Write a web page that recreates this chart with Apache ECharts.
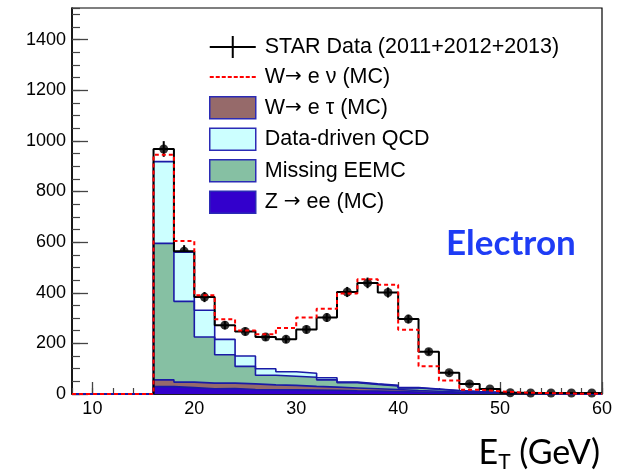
<!DOCTYPE html>
<html><head><meta charset="utf-8">
<script src="https://cdn.jsdelivr.net/npm/echarts@6/dist/echarts.min.js"></script>
<style>html,body{margin:0;padding:0;background:#fff}#c{width:628px;height:471px}</style>
</head><body><div id="c"></div>
<script>
// ---- data (bins of 2 GeV, low edges) ----
const binLow = [8,10,12,14,16,18,20,22,24,26,28,30,32,34,36,38,40,42,44,46,48,50,52,54,56,58];
const binWidth = 2;
const zee   = [0,0,0,0, 29,25,21,22,18,17,17,16,15,13,12,10, 8, 6, 5, 4, 3, 2, 1, 1, 1, 0];
const wetau = [0,0,0,0, 27,22,22,21,22,19,17,14,12,11, 9, 8, 6, 5, 3, 2, 1, 1, 1, 0, 0, 0];
const eemc  = [0,0,0,0, 539,319,182,112,69,38,36,36,29,21,17,14,10, 8, 5, 3, 2, 1, 1, 1, 0, 1];
const qcd   = [0,0,0,0, 323,194,106,61,41,26,18,16, 8, 2, 2, 2, 1, 1, 1, 1, 1, 1, 0, 0, 0, 0];
const wenu  = [0,0,0,0, 27,44,59,79,101,136,173,220,273,350,413,398,229,90,39,7,4,1,1,1,0,0];
const starData = [null,null,null,null, 968,564,383,272,247,225,216,255,302,403,439,401,296,167,84,40,20,5,4,4,4,4];
const starErr  = [null,null,null,null, 31,24,20,16,16,15,15,16,17,20,21,20,17,13,9,6,4,2,2,2,2,2];

const names = {
  data: 'STAR Data (2011+2012+2013)',
  wenu: 'W\u2192 e \u03bd (MC)',
  wtau: 'W\u2192 e \u03c4 (MC)',
  qcd: 'Data-driven QCD',
  eemc: 'Missing EEMC',
  zee: 'Z \u2192 ee (MC)'
};

// cumulative stack
function addArr(a, b) { return a.map((v, i) => (v || 0) + (b[i] || 0)); }
const c1 = zee.slice();
const c2 = addArr(c1, wetau);
const c3 = addArr(c2, eemc);
const c4 = addArr(c3, qcd);
const c5 = addArr(c4, wenu);

function step(vals) {
  const pts = [];
  vals.forEach((v, i) => {
    const y = v == null ? 0 : v;
    pts.push([binLow[i], y]);
    pts.push([binLow[i] + binWidth, y]);
  });
  return pts;
}
function dataStep(vals) {
  const pts = [];
  let started = false;
  vals.forEach((v, i) => {
    if (v == null) return;
    if (!started) { pts.push([binLow[i], 0]); started = true; }
    pts.push([binLow[i], v]);
    pts.push([binLow[i] + binWidth, v]);
  });
  return pts;
}

const outline = '#1a1aa6';
function areaSeries(name, vals, fill) {
  return {
    type: 'line', name: name, data: step(vals), symbol: 'none', silent: true,
    lineStyle: { color: outline, width: 1.6 },
    itemStyle: { color: fill },
    areaStyle: { color: fill, opacity: 1 },
    animation: false
  };
}

const points = [];
starData.forEach((v, i) => { if (v != null) points.push([binLow[i] + binWidth / 2, v, starErr[i]]); });

const chart = echarts.init(document.getElementById('c'), null, { renderer: 'canvas' });
const axisFont = { fontFamily: 'Liberation Sans', fontSize: 18, color: '#000' };
const boxBorder = '#2b2bb5';

chart.setOption({
  animation: false,
  backgroundColor: '#fff',
  grid: { left: 72, right: 26, top: 8, bottom: 77, show: true, borderColor: '#000', borderWidth: 1.2, backgroundColor: 'transparent' },
  xAxis: [
    { type: 'value', min: 8, max: 60, splitLine: { show: false },
      axisLine: { lineStyle: { color: '#000', width: 1.5 } },
      axisTick: { inside: true, length: 12, lineStyle: { color: '#444', width: 1.3 } },
      axisLabel: Object.assign({ margin: 6, showMinLabel: false, formatter: v => String(v) }, axisFont) },
    { type: 'value', min: 8, max: 60, interval: 2, position: 'bottom', splitLine: { show: false },
      axisLine: { show: false },
      axisTick: { inside: true, length: 6, lineStyle: { color: '#444', width: 1.2 } },
      axisLabel: { show: false } }
  ],
  yAxis: [
    { type: 'value', min: 0, max: 1525, interval: 200, splitLine: { show: false },
      axisLine: { show: true, lineStyle: { color: '#000', width: 1.5 } },
      axisTick: { show: true, inside: true, length: 16, lineStyle: { color: '#444', width: 1.3 } },
      axisLabel: Object.assign({ margin: 6, showMaxLabel: false, formatter: v => String(v) }, axisFont) },
    { type: 'value', min: 0, max: 1525, interval: 50, position: 'left', splitLine: { show: false },
      axisLine: { show: false },
      axisTick: { show: true, inside: true, length: 8, lineStyle: { color: '#444', width: 1.2 } },
      axisLabel: { show: false } }
  ],
  legend: {
    orient: 'vertical', left: 209, top: 36, itemWidth: 46, itemHeight: 22, itemGap: 8,
    padding: 0, selectedMode: false,
    formatter: function (n) { return n.replace(/\u2192/g, '{a|\u2192}'); },
    textStyle: { fontFamily: 'Liberation Sans', fontSize: 21.5, lineHeight: 22, color: '#000', padding: [0, 0, 0, 4],
      rich: { a: { fontFamily: 'DejaVu Sans', fontSize: 20, lineHeight: 22, color: '#000' } } },
    data: [
      { name: names.data, icon: 'path://M0,10H46V12H0Z M22,0H24V22H22Z', itemStyle: { color: '#000', borderWidth: 0 } },
      { name: names.wenu, icon: 'path://M0,0M46,22M0,10h4v2h-4zM6,10h4v2h-4zM12,10h4v2h-4zM18,10h4v2h-4zM24,10h4v2h-4zM30,10h4v2h-4zM36,10h4v2h-4zM42,10h4v2h-4z', itemStyle: { color: '#ff0000', borderWidth: 0 } },
      { name: names.wtau, icon: 'rect', itemStyle: { color: '#966a6a', borderColor: boxBorder, borderWidth: 1.5 } },
      { name: names.qcd, icon: 'rect', itemStyle: { color: '#ccffff', borderColor: boxBorder, borderWidth: 1.5 } },
      { name: names.eemc, icon: 'rect', itemStyle: { color: '#86c0a3', borderColor: boxBorder, borderWidth: 1.5 } },
      { name: names.zee, icon: 'rect', itemStyle: { color: '#3300cc', borderColor: boxBorder, borderWidth: 1.5 } }
    ]
  },
  graphic: [
    { type: 'text', left: 446, top: 226, silent: true,
      style: { text: 'Electron', font: 'bold 35px Lato', fill: '#1e3cf5' } },
    { type: 'text', right: 28, top: 436, silent: true,
      style: { text: '{e|E}{t|T}{e| (GeV)}',
        rich: { e: { fontFamily: 'Lato', fontSize: 34, lineHeight: 40, fill: '#000' },
                t: { fontFamily: 'Lato', fontSize: 21, lineHeight: 24, verticalAlign: 'bottom', fill: '#000' } } } }
  ],
  series: [
    areaSeries(names.qcd, c4, '#ccffff'),
    areaSeries(names.eemc, c3, '#86c0a3'),
    areaSeries(names.wtau, c2, '#966a6a'),
    areaSeries(names.zee, c1, '#3300cc'),
    { type: 'line', name: names.data, data: dataStep(starData), symbol: 'none', silent: true,
      lineStyle: { color: '#000', width: 2 }, itemStyle: { color: '#000' } },
    { type: 'line', name: names.wenu, data: step(c5), symbol: 'none', silent: true,
      lineStyle: { color: '#ff0000', width: 2, type: [4, 3] }, itemStyle: { color: '#ff0000' } },
    { type: 'custom', name: names.data, data: points, silent: true,
      renderItem: function (params, api) {
        const x = api.value(0), y = api.value(1), e = api.value(2);
        const p1 = api.coord([x, y - e]);
        const p2 = api.coord([x, y + e]);
        return { type: 'line', shape: { x1: p1[0], y1: p1[1], x2: p2[0], y2: p2[1] },
                 style: { stroke: '#000', lineWidth: 2 } };
      } },
    { type: 'scatter', name: names.data, data: points.map(p => [p[0], p[1]]), symbol: 'circle', symbolSize: 9,
      itemStyle: { color: '#000' }, silent: true }
  ]
});
</script></body></html>
